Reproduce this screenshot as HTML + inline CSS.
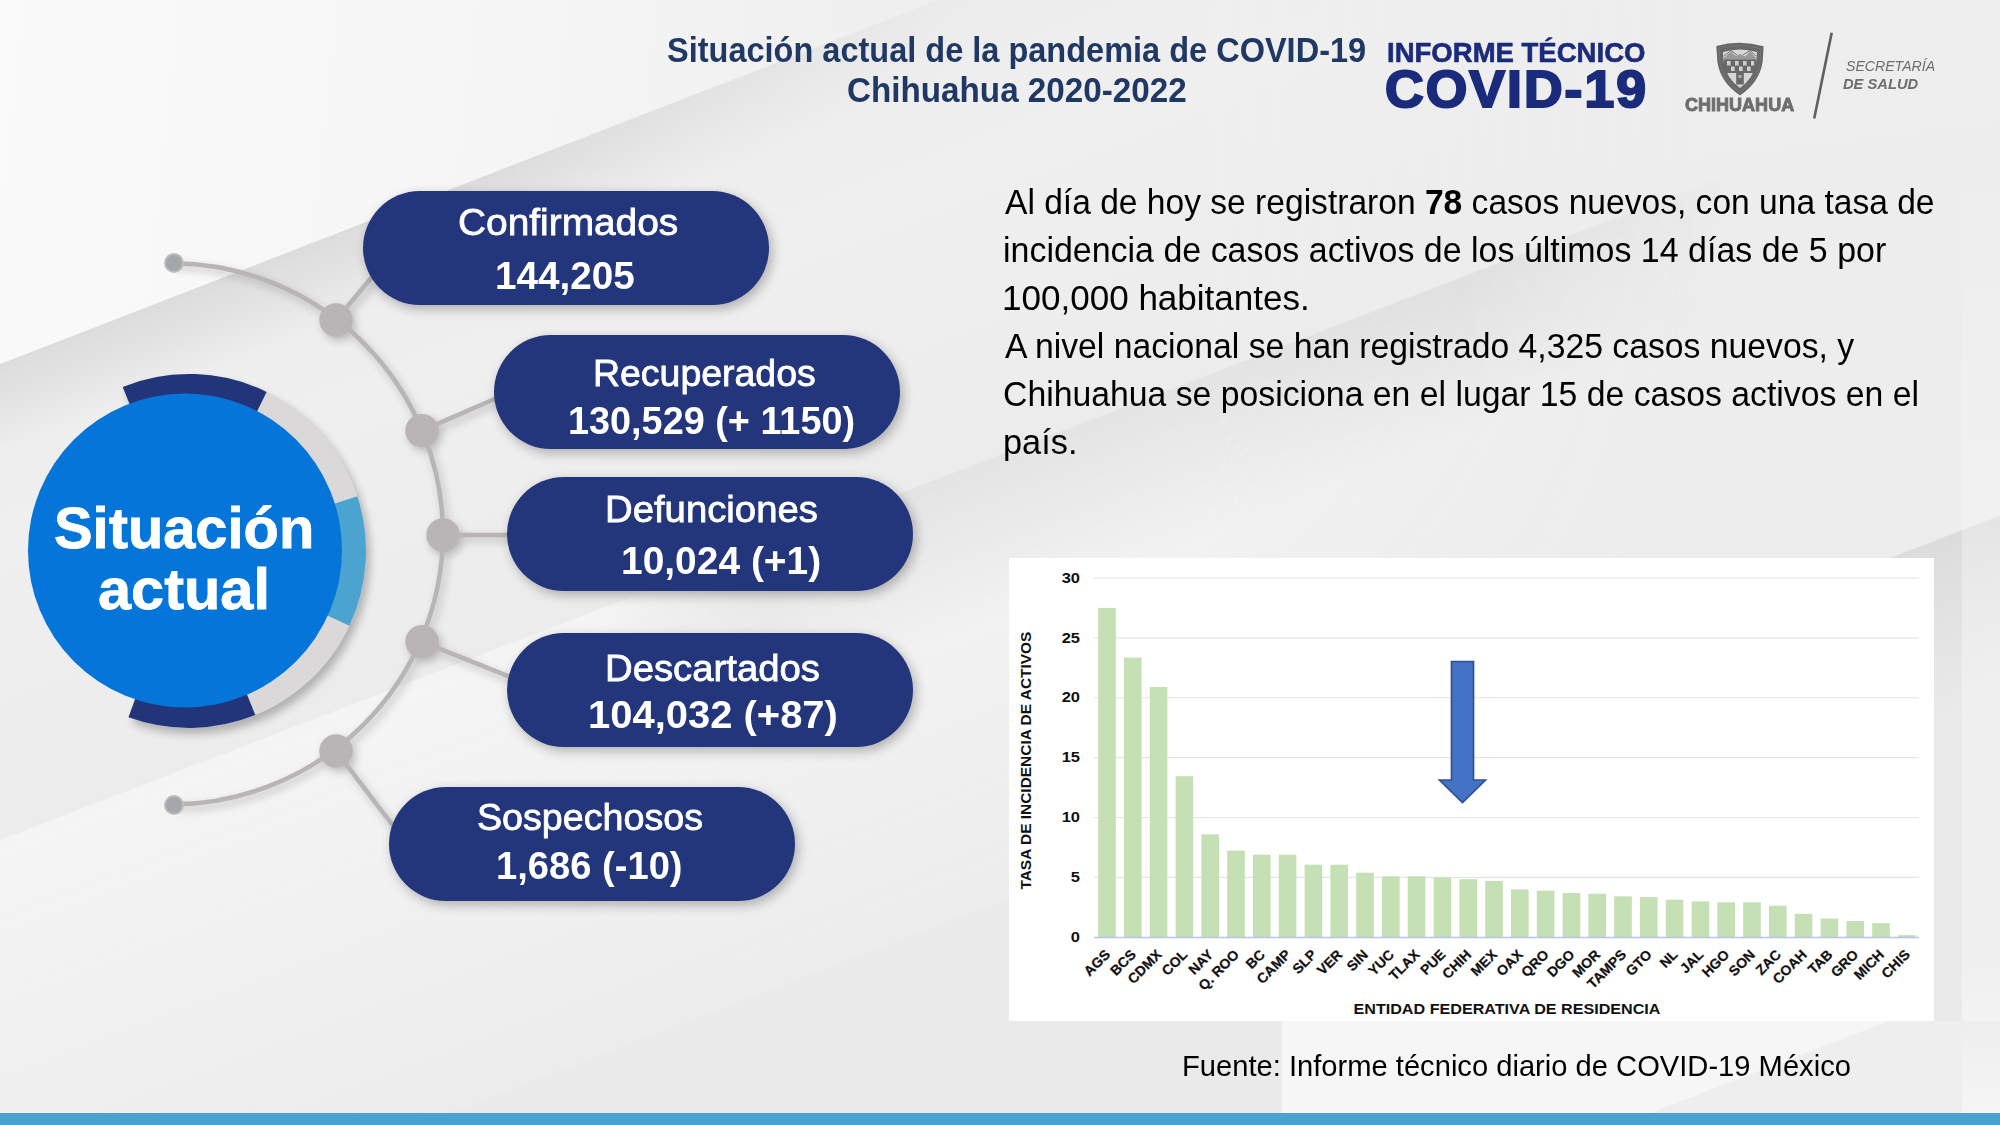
<!DOCTYPE html>
<html><head><meta charset="utf-8">
<style>
html,body{margin:0;padding:0;}
body{width:2000px;height:1125px;position:relative;overflow:hidden;background:#ebebeb;font-family:"Liberation Sans",sans-serif;}
.t{position:absolute;white-space:nowrap;line-height:1;transform-origin:0 0;}
svg{position:absolute;left:0;top:0;}
.pill{position:absolute;width:406px;height:114px;border-radius:57px;background:#23357b;box-shadow:3px 4px 12px rgba(0,0,0,0.28);}
</style></head>
<body>
<svg width="2000" height="1125" viewBox="0 0 2000 1125">
<defs>
<linearGradient id="g0" x1="0" y1="0" x2="0.2" y2="1">
<stop offset="0" stop-color="#eeeeee"/><stop offset="0.5" stop-color="#ededed"/><stop offset="1" stop-color="#ececec"/>
</linearGradient>
<linearGradient id="g1" gradientUnits="userSpaceOnUse" x1="0" y1="0" x2="900" y2="100">
<stop offset="0" stop-color="#fafafa"/><stop offset="0.5" stop-color="#f6f6f6"/><stop offset="1" stop-color="#efefef"/>
</linearGradient>
<linearGradient id="gb" gradientUnits="userSpaceOnUse" x1="469" y1="182" x2="628" y2="596">
<stop offset="0" stop-color="#eeeeee"/><stop offset="0.4" stop-color="#efefef"/><stop offset="1" stop-color="#ececec"/>
</linearGradient>
<linearGradient id="gs2" gradientUnits="userSpaceOnUse" x1="1100" y1="416.5" x2="1154" y2="556">
<stop offset="0" stop-color="#000" stop-opacity="0.065"/><stop offset="1" stop-color="#000" stop-opacity="0"/>
</linearGradient>
<linearGradient id="gs3" gradientUnits="userSpaceOnUse" x1="1940" y1="539" x2="2000" y2="700">
<stop offset="0" stop-color="#dcdcdc"/><stop offset="1" stop-color="#eaeaea"/>
</linearGradient>
<linearGradient id="gs1" gradientUnits="userSpaceOnUse" x1="469" y1="182" x2="500" y2="262">
<stop offset="0" stop-color="#000" stop-opacity="0.075"/><stop offset="1" stop-color="#000" stop-opacity="0"/>
</linearGradient>
<linearGradient id="mk1" gradientUnits="userSpaceOnUse" x1="0" y1="0" x2="1000" y2="0">
<stop offset="0" stop-color="#fff" stop-opacity="1"/><stop offset="0.5" stop-color="#fff" stop-opacity="1"/><stop offset="0.95" stop-color="#fff" stop-opacity="0.15"/>
</linearGradient>
<mask id="m1" maskUnits="userSpaceOnUse" x="0" y="0" width="2000" height="1125"><rect x="0" y="0" width="2000" height="1125" fill="url(#mk1)"/></mask>
<linearGradient id="gst" gradientUnits="userSpaceOnUse" x1="0" y1="150" x2="0" y2="1113">
<stop offset="0" stop-color="#fff" stop-opacity="0"/><stop offset="0.47" stop-color="#fff" stop-opacity="0.3"/><stop offset="0.85" stop-color="#fff" stop-opacity="0.3"/><stop offset="1" stop-color="#fff" stop-opacity="0.65"/>
</linearGradient>
<linearGradient id="gL" gradientUnits="userSpaceOnUse" x1="600" y1="609" x2="760" y2="1029">
<stop offset="0" stop-color="#f4f4f4"/><stop offset="1" stop-color="#f4f4f4" stop-opacity="0"/>
</linearGradient>
<linearGradient id="mk" gradientUnits="userSpaceOnUse" x1="600" y1="0" x2="1750" y2="0">
<stop offset="0" stop-color="#fff" stop-opacity="0"/><stop offset="0.15" stop-color="#fff" stop-opacity="1"/><stop offset="0.75" stop-color="#fff" stop-opacity="1"/><stop offset="1" stop-color="#fff" stop-opacity="0"/>
</linearGradient>
<linearGradient id="mkb" gradientUnits="userSpaceOnUse" x1="0" y1="0" x2="2000" y2="0">
<stop offset="0" stop-color="#fff" stop-opacity="1"/><stop offset="0.6" stop-color="#fff" stop-opacity="1"/><stop offset="0.85" stop-color="#fff" stop-opacity="0"/>
</linearGradient>
<mask id="mb" maskUnits="userSpaceOnUse" x="0" y="0" width="2000" height="1125"><rect x="0" y="0" width="2000" height="1125" fill="url(#mkb)"/></mask>
<mask id="m2" maskUnits="userSpaceOnUse" x="0" y="0" width="2000" height="1125"><rect x="0" y="0" width="2000" height="1125" fill="url(#mk)"/></mask>
<filter id="sh" x="-20%" y="-20%" width="140%" height="140%"><feGaussianBlur stdDeviation="4"/></filter>
</defs>
<rect x="0" y="0" width="2000" height="1125" fill="url(#g0)"/>
<polygon points="0,364 938,0 2182,0 0,840" fill="url(#gb)" mask="url(#mb)"/>
<polygon points="0,840 2182,0 2000,0 2000,1125 0,1125" fill="url(#gL)" mask="url(#mb)"/>
<polygon points="0,364 938,0 1400,0 0,600" fill="url(#gs1)" mask="url(#m1)"/>
<polygon points="0,840 2182,0 2000,0 2000,1125 0,1125" fill="url(#gs2)" mask="url(#m2)"/>
<polygon points="0,0 938,0 0,364" fill="url(#g1)"/>
<polygon points="448,1113 2000,516 2000,1113" fill="#000" opacity="0.008"/>
<polygon points="1282,1021 1934,1021 1934,1006 1962,995 1962,1113 1650,1113 1282,1113" fill="#f6f6f6"/>

<polygon points="1650,1113 2000,978 2000,1113" fill="#000" opacity="0.03"/>
<polygon points="1934,558 1934,1021 2000,1021 2000,516 1999,516 1890,558" fill="url(#gs3)"/>
<rect x="1962" y="150" width="38" height="963" fill="url(#gst)"/>
<rect x="0" y="1113" width="2000" height="12" fill="#4aa3cf"/>
</svg>
<div class="t" style="left:667.02px;top:31.95px;font-size:35.00px;color:#203864;font-weight:bold;transform:scaleX(0.9288);">Situación actual de la pandemia de COVID-19</div>
<div class="t" style="left:846.67px;top:72.35px;font-size:35.00px;color:#203864;font-weight:bold;transform:scaleX(0.9491);">Chihuahua 2020-2022</div>
<div class="t" style="left:1386.61px;top:39.23px;font-size:27.60px;color:#1b2b7c;font-weight:bold;transform:scaleX(0.9975);-webkit-text-stroke:0.6px #1b2b7c;">INFORME TÉCNICO</div>
<div class="t" style="left:1385.36px;top:62.58px;font-size:52.50px;color:#1b2b7c;font-weight:bold;letter-spacing:2.00px;transform:scaleX(1.0188);-webkit-text-stroke:2.2px #1b2b7c;">COVID-19</div>
<div class="t" style="left:1685.28px;top:95.85px;font-size:18.00px;color:#6d6d6d;font-weight:bold;transform:scaleX(1.0017);-webkit-text-stroke:0.9px #6d6d6d;">CHIHUAHUA</div>
<div class="t" style="left:1845.58px;top:58.27px;font-size:15.30px;color:#6d6d6d;font-style:italic;transform:scaleX(0.9219);">SECRETARÍA</div>
<div class="t" style="left:1843.31px;top:75.79px;font-size:15.20px;color:#6d6d6d;font-weight:bold;font-style:italic;transform:scaleX(0.9677);">DE SALUD</div>
<svg width="2000" height="1125" viewBox="0 0 2000 1125">
<line x1="1831.7" y1="32.7" x2="1814.2" y2="118.5" stroke="#5f5f5f" stroke-width="2.6"/>
<path d="M1716.3,46 Q1740,39.2 1763.6,46.3 L1762.6,62 Q1759.5,82.5 1740,95.4 Q1720.5,82.5 1717.4,62 Z" fill="#686868"/>
<path d="M1716.3,46 Q1740,39.2 1763.6,46.3 L1762.6,62 Q1759.5,82.5 1740,95.4 Q1720.5,82.5 1717.4,62 Z" fill="none" stroke="#8a8a8a" stroke-width="0.8" transform="translate(1740,68) scale(0.88) translate(-1740,-68)" stroke-dasharray="1.5 1.2"/>
<path d="M1723,52 Q1740,47 1757,52 L1756.2,63 Q1753.5,78.5 1740,88 Q1726.5,78.5 1723.8,63 Z" fill="#d6d6d6"/>
<path d="M1724,58 L1731,51.5 L1736,56 L1740,54 L1745,56.5 L1750,51.5 L1756,58 L1756,60 L1724,60 Z" fill="#9a9a9a"/>
<path d="M1724,56 L1731,50.5 L1737,55 M1743,55 L1750,50.5 L1756,56" fill="none" stroke="#6a6a6a" stroke-width="0.9"/>
<rect x="1723.8" y="59.5" width="32.4" height="13.5" fill="#686868"/>
<g fill="#d0d0d0">
<rect x="1727" y="61" width="3.6" height="4.5"/><rect x="1735" y="61" width="3.6" height="4.5"/><rect x="1743" y="61" width="3.6" height="4.5"/><rect x="1751" y="61" width="3.2" height="4.5"/>
<rect x="1731" y="66.5" width="3.6" height="4.5"/><rect x="1739" y="66.5" width="3.6" height="4.5"/><rect x="1747" y="66.5" width="3.6" height="4.5"/>
</g>
<rect x="1736.2" y="73" width="7.6" height="11.5" fill="#686868"/>
<rect x="1738.5" y="75" width="3" height="3" fill="#b0b0b0"/>
</svg>
<svg width="2000" height="1125" viewBox="0 0 2000 1125">
<g filter="url(#sh)" opacity="0.35" transform="translate(3,4)"><path d="M174,263.3 A271.7,271.7 0 0 1 443,535 A271.7,271.7 0 0 1 174,804.3" fill="none" stroke="#555" stroke-width="4.5"/>
<line x1="336.0" y1="320.0" x2="372.0" y2="277.0" stroke="#555" stroke-width="4.5"/>
<line x1="422.0" y1="430.6" x2="497.0" y2="398.0" stroke="#555" stroke-width="4.5"/>
<line x1="443.0" y1="535.0" x2="510.0" y2="535.0" stroke="#555" stroke-width="4.5"/>
<line x1="422.0" y1="641.7" x2="510.0" y2="677.0" stroke="#555" stroke-width="4.5"/>
<line x1="336.0" y1="751.0" x2="394.0" y2="827.0" stroke="#555" stroke-width="4.5"/>
<circle cx="336.0" cy="320.0" r="16.7" fill="#555"/>
<circle cx="422.0" cy="430.6" r="16.7" fill="#555"/>
<circle cx="443.0" cy="535.0" r="16.7" fill="#555"/>
<circle cx="422.0" cy="641.7" r="16.7" fill="#555"/>
<circle cx="336.0" cy="751.0" r="16.7" fill="#555"/>
</g>
<path d="M174,263.3 A271.7,271.7 0 0 1 443,535 A271.7,271.7 0 0 1 174,804.3" fill="none" stroke="#b9b5b7" stroke-width="4.5"/>
<line x1="336.0" y1="320.0" x2="372.0" y2="277.0" stroke="#b9b5b7" stroke-width="4.5"/>
<line x1="422.0" y1="430.6" x2="497.0" y2="398.0" stroke="#b9b5b7" stroke-width="4.5"/>
<line x1="443.0" y1="535.0" x2="510.0" y2="535.0" stroke="#b9b5b7" stroke-width="4.5"/>
<line x1="422.0" y1="641.7" x2="510.0" y2="677.0" stroke="#b9b5b7" stroke-width="4.5"/>
<line x1="336.0" y1="751.0" x2="394.0" y2="827.0" stroke="#b9b5b7" stroke-width="4.5"/>
<circle cx="336.0" cy="320.0" r="16.7" fill="#b9b5b7"/>
<circle cx="422.0" cy="430.6" r="16.7" fill="#b9b5b7"/>
<circle cx="443.0" cy="535.0" r="16.7" fill="#b9b5b7"/>
<circle cx="422.0" cy="641.7" r="16.7" fill="#b9b5b7"/>
<circle cx="336.0" cy="751.0" r="16.7" fill="#b9b5b7"/>
<circle cx="174" cy="263" r="9" fill="#a3a7aa" stroke="#bdbdbd" stroke-width="2"/>
<circle cx="174" cy="805" r="9" fill="#a3a7aa" stroke="#bdbdbd" stroke-width="2"/>
<path d="M189.0,551.0 L122.7,386.9 A177,177 0 1 1 128.5,717.3 Z" fill="#000" opacity="0.25" filter="url(#sh)" transform="translate(4,6)"/>
<path d="M189.0,551.0 L122.7,386.9 A177,177 0 1 1 128.5,717.3 Z" fill="#dad8d9"/>
<path d="M189.0,551.0 L122.7,386.9 A177,177 0 0 1 266.6,391.9 Z" fill="#22347a"/>
<path d="M189.0,551.0 L255.3,715.1 A177,177 0 0 1 128.5,717.3 Z" fill="#22347a"/>
<path d="M189.0,551.0 L357.3,496.3 A177,177 0 0 1 349.4,625.8 Z" fill="#4ba4d0"/>
<circle cx="185" cy="550.5" r="157" fill="#0575d9"/>
</svg>
<div class="t" style="left:53.77px;top:501.24px;font-size:56.50px;color:#fff;font-weight:bold;transform:scaleX(1.0234);-webkit-text-stroke:0.8px #fff;">Situación</div>
<div class="t" style="left:98.22px;top:561.74px;font-size:56.50px;color:#fff;font-weight:bold;transform:scaleX(1.0531);-webkit-text-stroke:0.8px #fff;">actual</div>
<div class="pill" style="left:363px;top:191px;"></div>
<div class="t" style="left:458.06px;top:204.26px;font-size:37.50px;color:#fff;transform:scaleX(1.0361);-webkit-text-stroke:0.8px #fff;">Confirmados</div>
<div class="t" style="left:494.68px;top:256.60px;font-size:38.50px;color:#fff;font-weight:bold;transform:scaleX(1.0044);">144,205</div>
<div class="pill" style="left:494px;top:335px;"></div>
<div class="t" style="left:593.00px;top:354.76px;font-size:37.50px;color:#fff;transform:scaleX(0.9986);-webkit-text-stroke:0.8px #fff;">Recuperados</div>
<div class="t" style="left:568.23px;top:402.10px;font-size:38.50px;color:#fff;font-weight:bold;transform:scaleX(0.9824);">130,529 (+ 1150)</div>
<div class="pill" style="left:507px;top:477px;"></div>
<div class="t" style="left:605.44px;top:490.56px;font-size:37.50px;color:#fff;transform:scaleX(1.0211);-webkit-text-stroke:0.8px #fff;">Defunciones</div>
<div class="t" style="left:620.66px;top:542.30px;font-size:38.50px;color:#fff;font-weight:bold;transform:scaleX(1.0111);">10,024 (+1)</div>
<div class="pill" style="left:507px;top:633px;"></div>
<div class="t" style="left:604.64px;top:649.76px;font-size:37.50px;color:#fff;transform:scaleX(1.0211);-webkit-text-stroke:0.8px #fff;">Descartados</div>
<div class="t" style="left:588.10px;top:696.10px;font-size:38.50px;color:#fff;font-weight:bold;transform:scaleX(1.0377);">104,032 (+87)</div>
<div class="pill" style="left:389px;top:787px;"></div>
<div class="t" style="left:477.11px;top:799.36px;font-size:37.50px;color:#fff;transform:scaleX(1.0037);-webkit-text-stroke:0.8px #fff;">Sospechosos</div>
<div class="t" style="left:495.71px;top:847.40px;font-size:38.50px;color:#fff;font-weight:bold;transform:scaleX(0.9906);">1,686 (-10)</div>
<div class="t" style="left:1005.00px;top:184.87px;font-size:35.50px;color:#000;transform:scaleX(0.9458);">Al día de hoy se registraron <b>78</b> casos nuevos, con una tasa de</div>
<div class="t" style="left:1002.79px;top:232.87px;font-size:35.50px;color:#000;transform:scaleX(0.9564);">incidencia de casos activos de los últimos 14 días de 5 por</div>
<div class="t" style="left:1002.37px;top:280.87px;font-size:35.50px;color:#000;transform:scaleX(0.9869);">100,000 habitantes.</div>
<div class="t" style="left:1005.00px;top:328.87px;font-size:35.50px;color:#000;transform:scaleX(0.9498);">A nivel nacional se han registrado 4,325 casos nuevos, y</div>
<div class="t" style="left:1003.31px;top:376.87px;font-size:35.50px;color:#000;transform:scaleX(0.9511);">Chihuahua se posiciona en el lugar 15 de casos activos en el</div>
<div class="t" style="left:1002.77px;top:424.87px;font-size:35.50px;color:#000;transform:scaleX(0.9670);">país.</div>
<div class="t" style="left:1182.47px;top:1051.01px;font-size:29.60px;color:#000;transform:scaleX(0.9847);">Fuente: Informe técnico diario de COVID-19 México</div>
<svg width="2000" height="1125" viewBox="0 0 2000 1125">
<rect x="1009" y="558" width="925" height="463" fill="#fff"/>
<line x1="1094" y1="877.4" x2="1919" y2="877.4" stroke="#e5e5e5" stroke-width="1.1"/>
<line x1="1094" y1="817.5" x2="1919" y2="817.5" stroke="#e5e5e5" stroke-width="1.1"/>
<line x1="1094" y1="757.6" x2="1919" y2="757.6" stroke="#e5e5e5" stroke-width="1.1"/>
<line x1="1094" y1="697.8" x2="1919" y2="697.8" stroke="#e5e5e5" stroke-width="1.1"/>
<line x1="1094" y1="637.9" x2="1919" y2="637.9" stroke="#e5e5e5" stroke-width="1.1"/>
<line x1="1094" y1="578.0" x2="1919" y2="578.0" stroke="#e5e5e5" stroke-width="1.1"/>
<rect x="1098.2" y="607.9" width="17.6" height="329.4" fill="#c5e0b4"/>
<rect x="1124.0" y="657.6" width="17.6" height="279.7" fill="#c5e0b4"/>
<rect x="1149.8" y="687.0" width="17.6" height="250.3" fill="#c5e0b4"/>
<rect x="1175.6" y="776.2" width="17.6" height="161.1" fill="#c5e0b4"/>
<rect x="1201.4" y="834.3" width="17.6" height="103.0" fill="#c5e0b4"/>
<rect x="1227.2" y="850.6" width="17.6" height="86.7" fill="#c5e0b4"/>
<rect x="1253.0" y="854.7" width="17.6" height="82.6" fill="#c5e0b4"/>
<rect x="1278.8" y="854.7" width="17.6" height="82.6" fill="#c5e0b4"/>
<rect x="1304.6" y="864.7" width="17.6" height="72.6" fill="#c5e0b4"/>
<rect x="1330.4" y="864.7" width="17.6" height="72.6" fill="#c5e0b4"/>
<rect x="1356.2" y="872.7" width="17.6" height="64.6" fill="#c5e0b4"/>
<rect x="1382.0" y="876.2" width="17.6" height="61.1" fill="#c5e0b4"/>
<rect x="1407.8" y="876.2" width="17.6" height="61.1" fill="#c5e0b4"/>
<rect x="1433.6" y="877.4" width="17.6" height="59.9" fill="#c5e0b4"/>
<rect x="1459.4" y="879.2" width="17.6" height="58.1" fill="#c5e0b4"/>
<rect x="1485.2" y="881.0" width="17.6" height="56.3" fill="#c5e0b4"/>
<rect x="1511.0" y="889.4" width="17.6" height="47.9" fill="#c5e0b4"/>
<rect x="1536.8" y="890.6" width="17.6" height="46.7" fill="#c5e0b4"/>
<rect x="1562.6" y="893.0" width="17.6" height="44.3" fill="#c5e0b4"/>
<rect x="1588.4" y="893.7" width="17.6" height="43.6" fill="#c5e0b4"/>
<rect x="1614.2" y="896.3" width="17.6" height="41.0" fill="#c5e0b4"/>
<rect x="1640.0" y="897.1" width="17.6" height="40.2" fill="#c5e0b4"/>
<rect x="1665.8" y="899.7" width="17.6" height="37.6" fill="#c5e0b4"/>
<rect x="1691.6" y="901.4" width="17.6" height="35.9" fill="#c5e0b4"/>
<rect x="1717.4" y="902.3" width="17.6" height="35.0" fill="#c5e0b4"/>
<rect x="1743.2" y="902.3" width="17.6" height="35.0" fill="#c5e0b4"/>
<rect x="1769.0" y="905.7" width="17.6" height="31.6" fill="#c5e0b4"/>
<rect x="1794.8" y="913.8" width="17.6" height="23.5" fill="#c5e0b4"/>
<rect x="1820.6" y="918.5" width="17.6" height="18.8" fill="#c5e0b4"/>
<rect x="1846.4" y="921.0" width="17.6" height="16.3" fill="#c5e0b4"/>
<rect x="1872.2" y="923.2" width="17.6" height="14.1" fill="#c5e0b4"/>
<rect x="1898.0" y="935.1" width="17.6" height="2.2" fill="#c5e0b4"/>
<line x1="1094" y1="937.5" x2="1919" y2="937.5" stroke="#b4c7e7" stroke-width="1.5"/>
<g font-family="Liberation Sans" font-weight="bold" font-size="15" fill="#111" text-anchor="end">
<text transform="translate(1080,941.9) scale(1.1,1)">0</text>
<text transform="translate(1080,882.0) scale(1.1,1)">5</text>
<text transform="translate(1080,822.1) scale(1.1,1)">10</text>
<text transform="translate(1080,762.2) scale(1.1,1)">15</text>
<text transform="translate(1080,702.4) scale(1.1,1)">20</text>
<text transform="translate(1080,642.5) scale(1.1,1)">25</text>
<text transform="translate(1080,582.6) scale(1.1,1)">30</text>
</g>
<text transform="translate(1031.3,889.6) rotate(-90)" font-family="Liberation Sans" font-weight="bold" font-size="15.3" fill="#111" textLength="258" lengthAdjust="spacingAndGlyphs">TASA DE INCIDENCIA DE ACTIVOS</text>
<text x="1353.5" y="1013.5" font-family="Liberation Sans" font-weight="bold" font-size="15.3" fill="#111" textLength="307" lengthAdjust="spacingAndGlyphs">ENTIDAD FEDERATIVA DE RESIDENCIA</text>
<g font-family="Liberation Sans" font-weight="bold" font-size="14" fill="#111" text-anchor="end" stroke="#111" stroke-width="0.25">
<text transform="translate(1111.0,955.5) rotate(-45)">AGS</text>
<text transform="translate(1136.8,955.5) rotate(-45)">BCS</text>
<text transform="translate(1162.6,955.5) rotate(-45)">CDMX</text>
<text transform="translate(1188.4,955.5) rotate(-45)">COL</text>
<text transform="translate(1214.2,955.5) rotate(-45)">NAY</text>
<text transform="translate(1240.0,955.5) rotate(-45)">Q. ROO</text>
<text transform="translate(1265.8,955.5) rotate(-45)">BC</text>
<text transform="translate(1291.6,955.5) rotate(-45)">CAMP</text>
<text transform="translate(1317.4,955.5) rotate(-45)">SLP</text>
<text transform="translate(1343.2,955.5) rotate(-45)">VER</text>
<text transform="translate(1369.0,955.5) rotate(-45)">SIN</text>
<text transform="translate(1394.8,955.5) rotate(-45)">YUC</text>
<text transform="translate(1420.6,955.5) rotate(-45)">TLAX</text>
<text transform="translate(1446.4,955.5) rotate(-45)">PUE</text>
<text transform="translate(1472.2,955.5) rotate(-45)">CHIH</text>
<text transform="translate(1498.0,955.5) rotate(-45)">MEX</text>
<text transform="translate(1523.8,955.5) rotate(-45)">OAX</text>
<text transform="translate(1549.6,955.5) rotate(-45)">QRO</text>
<text transform="translate(1575.4,955.5) rotate(-45)">DGO</text>
<text transform="translate(1601.2,955.5) rotate(-45)">MOR</text>
<text transform="translate(1627.0,955.5) rotate(-45)">TAMPS</text>
<text transform="translate(1652.8,955.5) rotate(-45)">GTO</text>
<text transform="translate(1678.6,955.5) rotate(-45)">NL</text>
<text transform="translate(1704.4,955.5) rotate(-45)">JAL</text>
<text transform="translate(1730.2,955.5) rotate(-45)">HGO</text>
<text transform="translate(1756.0,955.5) rotate(-45)">SON</text>
<text transform="translate(1781.8,955.5) rotate(-45)">ZAC</text>
<text transform="translate(1807.6,955.5) rotate(-45)">COAH</text>
<text transform="translate(1833.4,955.5) rotate(-45)">TAB</text>
<text transform="translate(1859.2,955.5) rotate(-45)">GRO</text>
<text transform="translate(1885.0,955.5) rotate(-45)">MICH</text>
<text transform="translate(1910.8,955.5) rotate(-45)">CHIS</text>
</g>
<path d="M1451.5,661.5 L1473.5,661.5 L1473.5,780 L1485.5,780 L1462.5,802.5 L1439.5,780 L1451.5,780 Z" fill="#4472c4" stroke="#2f528f" stroke-width="1.7"/>
</svg>
</body></html>
